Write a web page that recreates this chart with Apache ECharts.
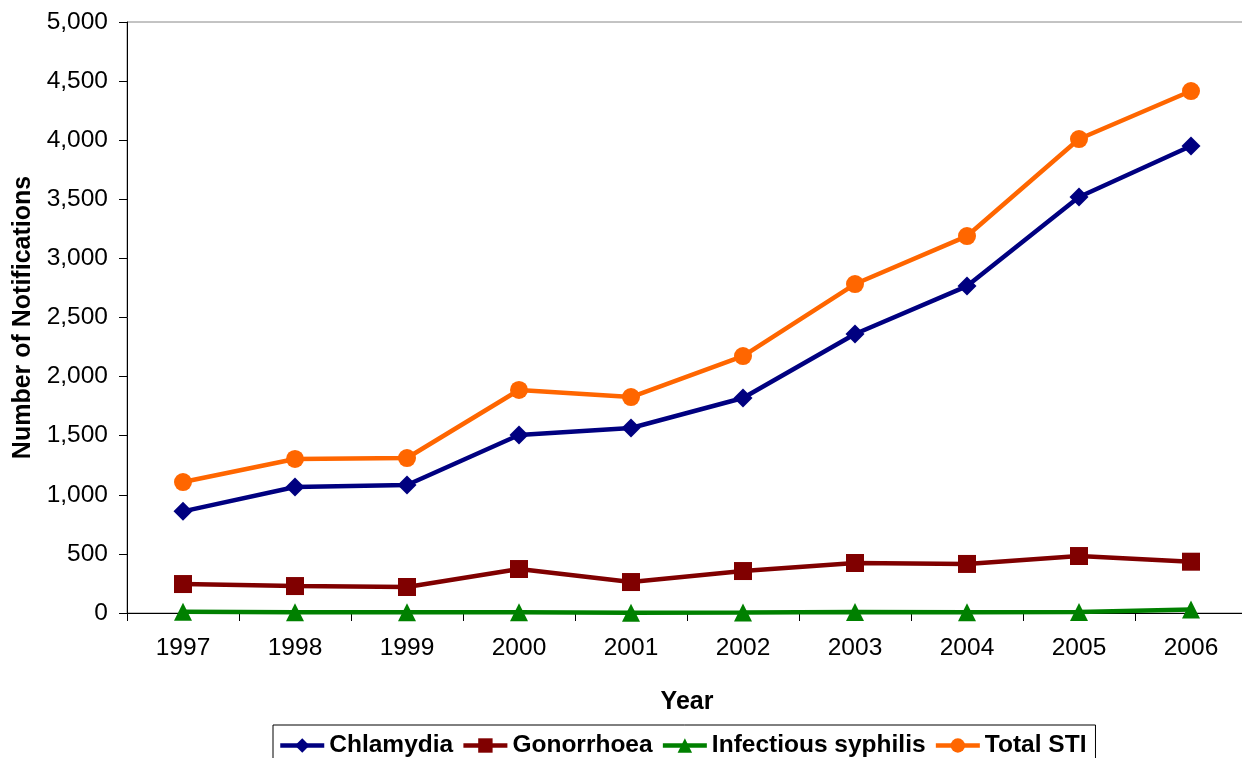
<!DOCTYPE html>
<html><head><meta charset="utf-8">
<script src="https://cdn.jsdelivr.net/npm/echarts@6/dist/echarts.min.js"></script>
<style>html,body{margin:0;padding:0;background:#fff}#c{width:1242px;height:758px}</style>
</head><body><div id="c"></div>
<script>
const years = ['1997','1998','1999','2000','2001','2002','2003','2004','2005','2006'];
const chlamydia = [860, 1066, 1083, 1506, 1565, 1819, 2360, 2766, 3519, 3951];
const gonorrhoea = [245, 228, 220, 372, 262, 355, 423, 415, 482, 434];
const syphilis = [10, 6, 6, 6, 3, 4, 8, 6, 8, 30];
const totalSTI = [1108, 1303, 1311, 1887, 1827, 2174, 2783, 3189, 4010, 4416];
const yTicks = {min: 0, max: 5000, interval: 500};

const font = '"Liberation Sans", Arial, sans-serif';
function mk(name, data, color, symbol, size) {
  return {name, type: 'line', data, symbol, symbolSize: size, color,
    lineStyle: {width: 4.5, color}, itemStyle: {color}, animation: false};
}
const chart = echarts.init(document.getElementById('c'));
chart.setOption({
  animation: false,
  grid: {left: 127, right: -5, top: 22, bottom: 145, outerBoundsMode: 'none', containLabel: false,
    show: true, borderColor: '#888', borderWidth: 1},
  xAxis: {type: 'category', data: years, boundaryGap: true,
    name: 'Year', nameLocation: 'middle', nameGap: 77,
    nameTextStyle: {fontFamily: font, fontSize: 25, fontWeight: 'bold', color: '#000'},
    axisLine: {lineStyle: {color: '#000', width: 1}},
    axisTick: {show: true, length: 8, lineStyle: {color: '#000'}, alignWithLabel: false},
    axisLabel: {fontFamily: font, fontSize: 24.5, color: '#000', margin: 23}},
  yAxis: {type: 'value', min: yTicks.min, max: yTicks.max, interval: yTicks.interval,
    name: 'Number of Notifications', nameLocation: 'middle', nameGap: 91, nameRotate: 90,
    nameTextStyle: {fontFamily: font, fontSize: 25, fontWeight: 'bold', color: '#000'},
    axisLine: {show: true, lineStyle: {color: '#000', width: 1}},
    axisTick: {show: true, length: 8, lineStyle: {color: '#000'}},
    splitLine: {show: false},
    axisLabel: {fontFamily: font, fontSize: 24.5, color: '#000', margin: 19,
      formatter: v => v.toLocaleString('en-US')}},
  legend: {left: 273, top: 725, padding: [8, 9, 10, 5], itemGap: 8, itemWidth: 44, itemHeight: 18,
    borderColor: '#000', borderWidth: 1, backgroundColor: '#fff',
    lineStyle: {width: 4.5},
    textStyle: {fontFamily: font, fontSize: 24.5, fontWeight: 'bold', color: '#000'},
    data: ['Chlamydia', 'Gonorrhoea', 'Infectious syphilis', 'Total STI']},
  series: [
    mk('Chlamydia', chlamydia, '#000080', 'diamond', 19),
    mk('Gonorrhoea', gonorrhoea, '#800000', 'rect', 18),
    mk('Infectious syphilis', syphilis, '#008000', 'triangle', 18),
    mk('Total STI', totalSTI, '#FF6600', 'circle', 18)
  ]
});
</script></body></html>
